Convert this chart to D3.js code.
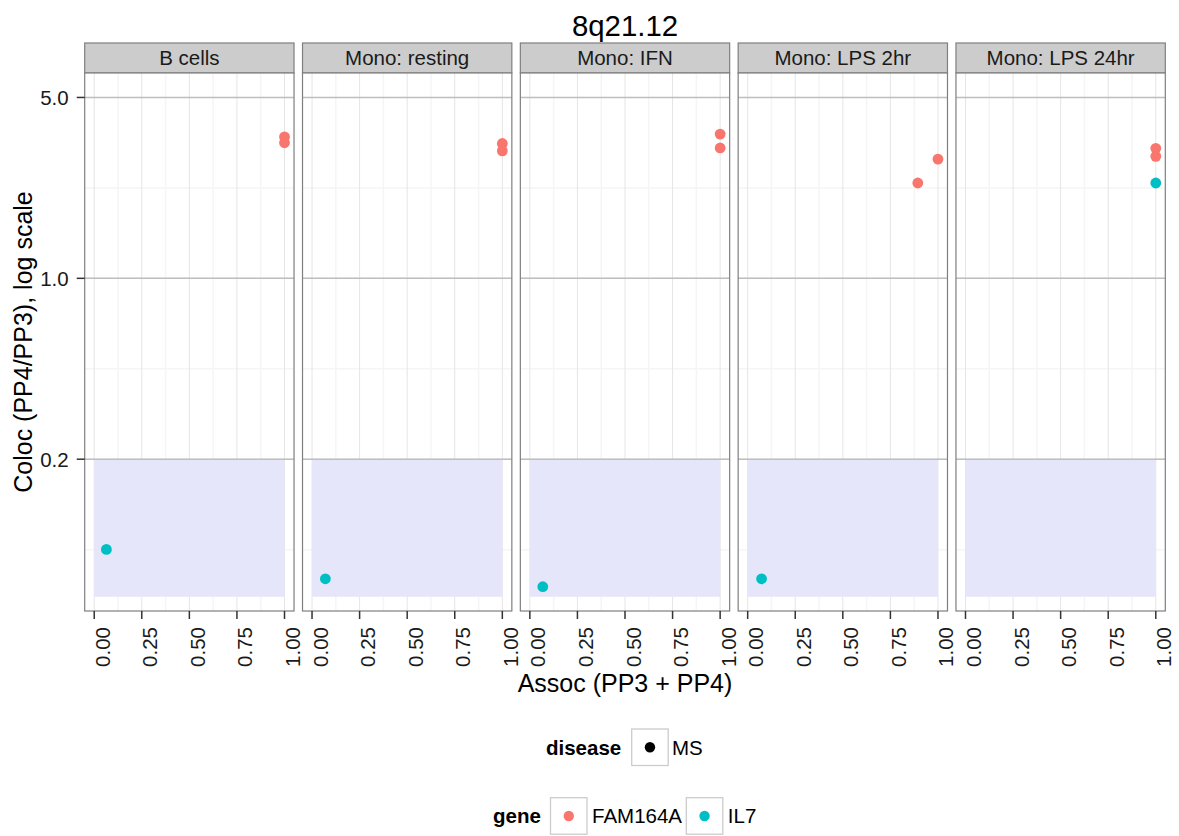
<!DOCTYPE html>
<html>
<head>
<meta charset="utf-8">
<script src="https://cdn.jsdelivr.net/npm/d3@7"></script>
<style>
  html, body { margin: 0; padding: 0; background: #ffffff; }
  svg { display: block; font-family: "Liberation Sans", Arial, Helvetica, sans-serif; }
</style>
</head>
<body>
<svg id="chart" width="1179" height="836"></svg>
<script>
// Facets (cell types)
const panels = ["B cells", "Mono: resting", "Mono: IFN", "Mono: LPS 2hr", "Mono: LPS 24hr"];

// One row per point: facet, gene, association (PP3 + PP4), colocalisation (PP4/PP3)
const pointPanel = [
  "B cells", "B cells", "B cells",
  "Mono: resting", "Mono: resting", "Mono: resting",
  "Mono: IFN", "Mono: IFN", "Mono: IFN",
  "Mono: LPS 2hr", "Mono: LPS 2hr", "Mono: LPS 2hr",
  "Mono: LPS 24hr", "Mono: LPS 24hr", "Mono: LPS 24hr"
];
const pointGene = [
  "FAM164A", "FAM164A", "IL7",
  "FAM164A", "FAM164A", "IL7",
  "FAM164A", "FAM164A", "IL7",
  "FAM164A", "FAM164A", "IL7",
  "FAM164A", "FAM164A", "IL7"
];
const pointAssoc = [
  1.00, 1.00, 0.064,
  1.00, 1.00, 0.070,
  1.00, 1.00, 0.068,
  0.894, 1.00, 0.073,
  1.00, 1.00, 1.00
];
const pointColoc = [
  3.52, 3.34, 0.0896,
  3.32, 3.11, 0.069,
  3.61, 3.19, 0.0643,
  2.335, 2.89, 0.069,
  3.18, 2.96, 2.335
];

// Axis breaks and reference lines
const xBreaks = [0, 0.25, 0.5, 0.75, 1];
const xMinor = [0.125, 0.375, 0.625, 0.875];
const yBreaks = [0.2, 1, 5];
const yMinor = [0.0894, 0.447, 2.236];
const yRefLines = [0.2, 1, 5];

// Low-colocalisation region shaded in each facet
const shadeX = [0, 1];
const shadeY = [0.0588, 0.2];

// Legends
const genes = ["FAM164A", "IL7"];
const geneColors = ["#F8766D", "#00BFC4"];
const diseases = ["MS"];

const rows = pointPanel.map((p, i) => ({
  panel: p, gene: pointGene[i], assoc: pointAssoc[i], coloc: pointColoc[i]
}));

const svg = d3.select("#chart");
const base = 25;
const small = 20.5;

const plotTop = 73, plotBottom = 611;
const plotLeft = 84.7, plotRight = 1165.3;
const stripTop = 43;

const panelScale = d3.scaleBand().domain(panels).range([plotLeft, plotRight])
  .paddingInner(0.039).paddingOuter(0);
const pw = panelScale.bandwidth();

// x: data range [0, 1] with 5% expansion
const xLim = [0, 1];
const xPad = (xLim[1] - xLim[0]) * 0.05;
const x = d3.scaleLinear().domain([xLim[0] - xPad, xLim[1] + xPad]).range([0, pw]);

// y: log10 scale with 5% expansion of the data range
const yLim = [0.0644, 5];
const ly = yLim.map(Math.log10);
const lyPad = (ly[1] - ly[0]) * 0.05;
const y = d3.scaleLog()
  .domain([Math.pow(10, ly[0] - lyPad), Math.pow(10, ly[1] + lyPad)])
  .range([plotBottom, plotTop]);

const color = d3.scaleOrdinal().domain(genes).range(geneColors);

// Title
svg.append("text")
  .attr("x", (plotLeft + plotRight) / 2).attr("y", 36)
  .attr("text-anchor", "middle").attr("font-size", 29.4).attr("fill", "#000")
  .text("8q21.12");

panels.forEach(name => {
  const g = svg.append("g").attr("transform", `translate(${panelScale(name)},0)`);

  // strip
  g.append("rect").attr("x", 0).attr("y", stripTop).attr("width", pw)
    .attr("height", plotTop - stripTop)
    .attr("fill", "#CCCCCC").attr("stroke", "#7F7F7F").attr("stroke-width", 1.2);
  g.append("text").attr("x", pw / 2).attr("y", 65)
    .attr("text-anchor", "middle").attr("font-size", small).attr("fill", "#1a1a1a")
    .text(name);

  // panel background
  g.append("rect").attr("x", 0).attr("y", plotTop).attr("width", pw)
    .attr("height", plotBottom - plotTop).attr("fill", "#fff");

  // minor grid
  g.selectAll(".xminor").data(xMinor).join("line")
    .attr("x1", d => x(d)).attr("x2", d => x(d))
    .attr("y1", plotTop).attr("y2", plotBottom)
    .attr("stroke", "#F5F5F5").attr("stroke-width", 1.5);
  g.selectAll(".yminor").data(yMinor).join("line")
    .attr("x1", 0).attr("x2", pw)
    .attr("y1", d => y(d)).attr("y2", d => y(d))
    .attr("stroke", "#F5F5F5").attr("stroke-width", 1.5);

  // major grid
  g.selectAll(".xmajor").data(xBreaks).join("line")
    .attr("x1", d => x(d)).attr("x2", d => x(d))
    .attr("y1", plotTop).attr("y2", plotBottom)
    .attr("stroke", "#E5E5E5").attr("stroke-width", 1);
  g.selectAll(".ymajor").data(yBreaks).join("line")
    .attr("x1", 0).attr("x2", pw)
    .attr("y1", d => y(d)).attr("y2", d => y(d))
    .attr("stroke", "#E5E5E5").attr("stroke-width", 1);

  // shaded region
  g.append("rect")
    .attr("x", x(shadeX[0])).attr("width", x(shadeX[1]) - x(shadeX[0]))
    .attr("y", y(shadeY[1])).attr("height", y(shadeY[0]) - y(shadeY[1]))
    .attr("fill", "#E6E6FA");

  // reference lines
  g.selectAll(".ref").data(yRefLines).join("line")
    .attr("x1", 0).attr("x2", pw)
    .attr("y1", d => y(d)).attr("y2", d => y(d))
    .attr("stroke", "#BEBEBE").attr("stroke-width", 1.4);

  // points
  g.selectAll(".pt").data(rows.filter(r => r.panel === name)).join("circle")
    .attr("cx", d => x(d.assoc)).attr("cy", d => y(d.coloc))
    .attr("r", 5.4).attr("fill", d => color(d.gene));

  // border
  g.append("rect").attr("x", 0).attr("y", plotTop).attr("width", pw)
    .attr("height", plotBottom - plotTop)
    .attr("fill", "none").attr("stroke", "#7F7F7F").attr("stroke-width", 1.2);

  // x axis
  const xa = g.append("g");
  xa.selectAll("line").data(xBreaks).join("line")
    .attr("x1", d => x(d)).attr("x2", d => x(d))
    .attr("y1", plotBottom).attr("y2", plotBottom + 8)
    .attr("stroke", "#333").attr("stroke-width", 1.5);
  xa.selectAll("text").data(xBreaks).join("text")
    .attr("transform", d => `translate(${x(d) + 15.5},${plotBottom + 16}) rotate(-90)`)
    .attr("text-anchor", "end").attr("font-size", small).attr("fill", "#1a1a1a")
    .text(d => d3.format(".2f")(d));
});

// y axis on the first facet
const ya = svg.append("g");
ya.selectAll("line").data(yBreaks).join("line")
  .attr("x1", plotLeft - 8).attr("x2", plotLeft)
  .attr("y1", d => y(d)).attr("y2", d => y(d))
  .attr("stroke", "#333").attr("stroke-width", 1.5);
ya.selectAll("text").data(yBreaks).join("text")
  .attr("x", plotLeft - 16).attr("y", d => y(d)).attr("dy", "0.36em")
  .attr("text-anchor", "end").attr("font-size", small).attr("fill", "#1a1a1a")
  .text(d => d3.format(".1f")(d));

// axis titles
svg.append("text")
  .attr("x", (plotLeft + plotRight) / 2).attr("y", 692)
  .attr("text-anchor", "middle").attr("font-size", base).attr("fill", "#000")
  .text("Assoc (PP3 + PP4)");
svg.append("text")
  .attr("transform", `translate(31.5,${(plotTop + plotBottom) / 2}) rotate(-90)`)
  .attr("text-anchor", "middle").attr("font-size", base).attr("fill", "#000")
  .text("Coloc (PP4/PP3), log scale");

// legends
const keySize = 36.5;
function legendKey(gx, gy, fill) {
  svg.append("rect").attr("x", gx).attr("y", gy).attr("width", keySize).attr("height", keySize)
    .attr("fill", "#fff").attr("stroke", "#CCCCCC").attr("stroke-width", 1.3);
  svg.append("circle").attr("cx", gx + keySize / 2).attr("cy", gy + keySize / 2)
    .attr("r", 5.2).attr("fill", fill);
}

svg.append("text").attr("x", 546).attr("y", 755)
  .attr("font-size", small).attr("font-weight", "bold").attr("fill", "#000").text("disease");
diseases.forEach(d => {
  legendKey(631.7, 729, "#000");
  svg.append("text").attr("x", 672).attr("y", 755)
    .attr("font-size", small).attr("fill", "#000").text(d);
});

svg.append("text").attr("x", 493).attr("y", 823)
  .attr("font-size", small).attr("font-weight", "bold").attr("fill", "#000").text("gene");
const geneKeyX = [550.5, 686.3];
genes.forEach((gname, i) => {
  legendKey(geneKeyX[i], 797.7, color(gname));
  svg.append("text").attr("x", geneKeyX[i] + keySize + 5).attr("y", 823)
    .attr("font-size", small).attr("fill", "#000").text(gname);
});
</script>
</body>
</html>
